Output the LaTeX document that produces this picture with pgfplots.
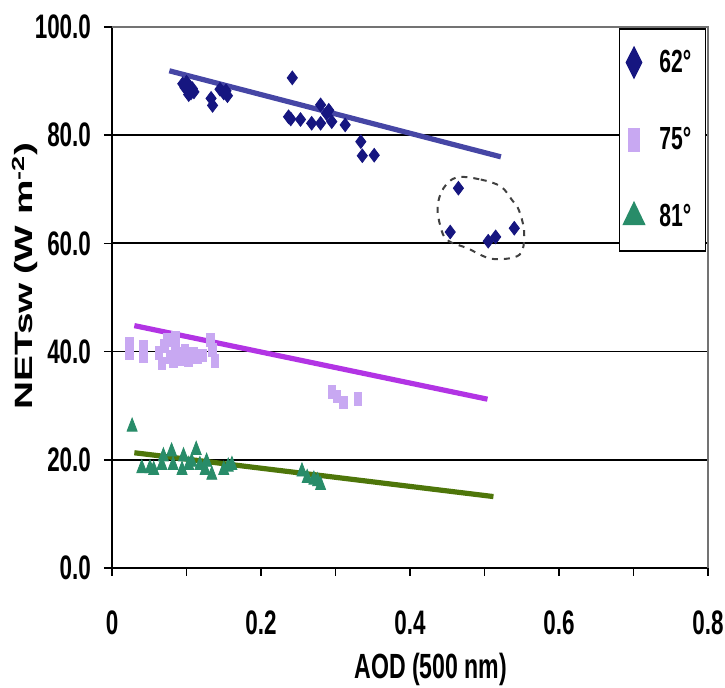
\documentclass[border=0pt]{standalone}
\usepackage{fontspec}
\setmainfont{Liberation Sans}[FakeStretch=0.66]
\newfontfamily\ylabfont{Liberation Sans}[FakeStretch=1.55]
\usepackage{pgfplots}
\pgfplotsset{compat=1.18}

\definecolor{diacol}{RGB}{22,22,128}
\definecolor{lineA}{RGB}{70,70,165}
\definecolor{sqcol}{RGB}{200,168,242}
\definecolor{lineB}{RGB}{178,52,228}
\definecolor{tricol}{RGB}{40,140,105}
\definecolor{lineC}{RGB}{78,118,10}

\begin{document}
\begin{tikzpicture}
\useasboundingbox (-56pt,-60pt) rectangle (306.5pt,284pt);
\begin{axis}[
    name=ax, at={(0,0)}, anchor=south west,
    width=298pt, height=270.5pt, scale only axis,
    xmin=0, xmax=0.8, ymin=0, ymax=100,
    axis lines*=left, axis line style={-, black, line width=0.9pt},
    xtick={0,0.1,0.2,0.3,0.4,0.5,0.6,0.7,0.8},
    xticklabels={0,,0.2,,0.4,,0.6,,0.8},
    ytick={0,20,40,60,80,100},
    yticklabel style={xshift=-3pt, /pgf/number format/.cd, fixed, fixed zerofill, precision=1},
    /pgf/number format/assume math mode=true,
    tick label style={font=\fontsize{17}{18}\selectfont\bfseries},
    xticklabel style={yshift=-14pt},
    tick align=outside, major tick length=4pt,
    tick style={black, line width=0.8pt},
    ymajorgrids, grid style={black, line width=0.9pt},
    xlabel={AOD (500 nm)},
    every axis x label/.style={at={(rel axis cs:0.535,0)}, anchor=center, yshift=-50.5pt,
        font=\fontsize{17.5}{19}\selectfont\bfseries},
    ylabel={\ylabfont NETsw\,\,(W m\textsuperscript{-2})},
    every axis y label/.style={at={(rel axis cs:0,0.54)}, rotate=90, anchor=south, yshift=33.5pt,
        font=\fontsize{12.5}{14}\selectfont\bfseries},
    legend style={at={(0.997,0.998)}, anchor=north east, draw=black, line width=0.8pt,
        fill=white, font=\fontsize{16}{17}\selectfont\bfseries,
        row sep=22pt, inner xsep=2pt, inner ysep=8.5pt,
        /tikz/every odd column/.append style={column sep=5.5pt}},
    legend cell align=left,
]
% 62 deg
\addplot[only marks, mark=diamond*, mark size=3.4pt, mark options={fill=diacol, draw=diacol},
    legend image code/.code={\draw[mark=diamond*, mark size=7.5pt, mark options={xscale=0.67, fill=diacol, draw=diacol}] plot coordinates {(0.3cm,0cm)};}]
  coordinates {
    (0.095,89.5) (0.098,88.8) (0.100,89.8) (0.102,88.2) (0.104,89.0) (0.106,87.8)
    (0.108,88.6) (0.110,88.0) (0.103,87.5)
    (0.133,86.8) (0.135,85.5)
    (0.145,88.5) (0.150,87.8) (0.153,88.2) (0.155,87.3)
    (0.242,90.6) (0.237,83.4) (0.240,83.0) (0.253,82.9) (0.268,82.2)
    (0.280,85.6) (0.280,82.2) (0.288,84.0) (0.291,84.6) (0.295,82.5)
    (0.313,81.9) (0.334,78.8) (0.336,76.2) (0.352,76.3)
    (0.465,70.2) (0.454,62.1) (0.505,60.4) (0.515,61.2) (0.540,62.8)
  };
\addlegendentry{\makebox[19pt][l]{62°}}
% 75 deg
\addplot[only marks, mark=square*, mark size=3.2pt, mark options={xscale=0.6, fill=sqcol, draw=sqcol},
    legend image code/.code={\draw[mark=square*, mark size=5.5pt, mark options={xscale=0.45, fill=sqcol, draw=sqcol}] plot coordinates {(0.3cm,0cm)};}]
  coordinates {
    (0.023,41.5) (0.023,39.8) (0.042,40.8) (0.042,39.2) (0.063,39.8) (0.067,37.8)
    (0.070,41.0) (0.074,42.2) (0.078,39.0) (0.082,38.2) (0.085,42.5) (0.085,40.5)
    (0.090,39.5) (0.094,38.6) (0.098,40.2) (0.103,38.5) (0.109,39.6) (0.115,39.0)
    (0.121,39.3) (0.132,42.1) (0.135,40.3) (0.138,38.3)
    (0.295,32.5) (0.302,31.7) (0.311,30.6) (0.330,31.3)
  };
\addlegendentry{75°}
% 81 deg
\addplot[only marks, mark=triangle*, mark size=2.9pt, mark options={yscale=1.5, fill=tricol, draw=tricol},
    legend image code/.code={\draw[mark=triangle*, mark size=6pt, mark options={yscale=1.2, fill=tricol, draw=tricol}] plot coordinates {(0.3cm,0cm)};}]
  coordinates {
    (0.027,26.1) (0.040,18.4) (0.051,18.4) (0.056,18.1) (0.067,19.0) (0.069,20.6)
    (0.080,21.5) (0.082,19.0) (0.094,18.1) (0.096,20.6) (0.103,19.0) (0.107,19.6)
    (0.113,21.8) (0.118,19.0) (0.125,18.1) (0.127,19.6) (0.134,17.2) (0.150,18.1)
    (0.156,18.7) (0.161,19.0)
    (0.255,17.8) (0.262,16.6) (0.271,16.3) (0.276,16.0) (0.280,15.3)
  };
\addlegendentry{81°}
% trend lines
\addplot[lineA, line width=2.6pt, forget plot] coordinates {(0.077,91.9) (0.522,76.0)};
\addplot[lineB, line width=2.6pt, forget plot] coordinates {(0.030,44.8) (0.504,31.2)};
\addplot[lineC, line width=2.6pt, forget plot] coordinates {(0.030,21.3) (0.512,13.2)};
% dashed outline round the outliers
\draw[dashed, black!75, line width=1pt] plot[smooth cycle, tension=0.6] coordinates {
    (0.463,72.2) (0.495,71.8) (0.522,70.5) (0.537,68.0) (0.546,66.2) (0.553,62.5)
    (0.551,58.8) (0.539,57.4) (0.508,57.2) (0.477,59.1) (0.450,60.6) (0.441,63.1)
    (0.437,66.8) (0.445,70.2)};
\end{axis}
\draw[black!55, line width=0.9pt] (ax.north west) -- (ax.north east) -- (ax.south east);
\end{tikzpicture}
\end{document}
